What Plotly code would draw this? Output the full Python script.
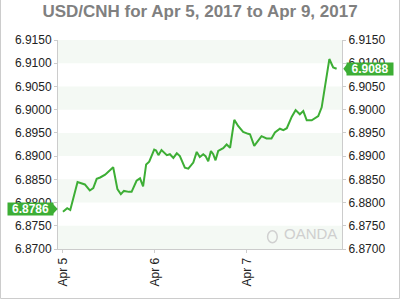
import pandas as pd
import plotly.graph_objects as go

title_text = "USD/CNH for Apr 5, 2017 to Apr 9, 2017"
start_time = "2017-04-05 00:00"
hours = [0, 1.1, 1.9, 3.8, 5.7, 7.0, 7.9, 8.8, 9.7, 11.0, 13.1, 14.2, 15.1, 15.9, 17.2,
         17.9, 19.2, 20.1, 20.9, 21.7, 22.5, 23.8, 24.3, 24.9, 25.7, 27.1, 27.9, 28.8, 29.7, 30.5,
         31.8, 32.7, 34.0, 34.9, 35.7, 36.6, 37.2, 37.9, 38.6, 39.2, 39.8, 40.5, 41.8, 42.7, 43.6,
         44.7, 45.7, 47.0, 48.3, 48.8, 49.9, 50.9, 51.8, 53.1, 54.4, 55.3, 56.6, 57.5, 58.4, 59.7,
         60.7, 61.8, 62.7, 63.6, 64.9, 66.6, 67.5, 69.5, 70.5, 71.4]
values = [6.8780, 6.8788, 6.8784, 6.8844, 6.8839, 6.8826, 6.8831, 6.8851, 6.8854, 6.8860,
          6.8876, 6.8829, 6.8818, 6.8825, 6.8823, 6.8823, 6.8847, 6.8852, 6.8835, 6.8882,
          6.8888, 6.8914, 6.8912, 6.8902, 6.8913, 6.8902, 6.8904, 6.8896, 6.8906, 6.8900,
          6.8875, 6.8873, 6.8886, 6.8909, 6.8898, 6.8904, 6.8900, 6.8889, 6.8911, 6.8904,
          6.8891, 6.8911, 6.8917, 6.8925, 6.8918, 6.8978, 6.8965, 6.8952, 6.8948, 6.8947,
          6.8922, 6.8932, 6.8943, 6.8938, 6.8938, 6.8951, 6.8959, 6.8956, 6.8960, 6.8985,
          6.8999, 6.8990, 6.8997, 6.8977, 6.8977, 6.8986, 6.9005, 6.9109, 6.9091, 6.9088]
tick_dates = ["2017-04-05", "2017-04-06", "2017-04-07"]
tick_labels = ["Apr 5", "Apr 6", "Apr 7"]
y_ticks = [6.870, 6.875, 6.880, 6.885, 6.890, 6.895, 6.900, 6.905, 6.910, 6.915]
bands = [(6.870, 6.875), (6.880, 6.885), (6.890, 6.895), (6.900, 6.905), (6.910, 6.915)]
x_range_hours = (-1.3, 72.8)
open_label = "6.8786"
close_label = "6.9088"

base = pd.Timestamp(start_time)
times = [base + pd.Timedelta(hours=h) for h in hours]
xr = [base + pd.Timedelta(hours=h) for h in x_range_hours]

GREEN = "#3dae35"
LINEC = "#cccccc"
FONT = "Liberation Sans, Arial, sans-serif"

fig = go.Figure()
fig.add_trace(go.Scatter(x=times, y=values, mode="lines",
                         line=dict(color=GREEN, width=2), hoverinfo="skip", showlegend=False))
fig.add_trace(go.Scatter(x=[times[0]], y=[values[0]], yaxis="y2", mode="markers",
                         marker=dict(opacity=0), hoverinfo="skip", showlegend=False))

shapes = []
for lo, hi in bands:
    shapes.append(dict(type="rect", xref="paper", yref="y", x0=0, x1=1, y0=lo, y1=hi,
                       fillcolor="#f4f9f4", line=dict(width=0), layer="below"))

# outer frame (left, bottom, right)
shapes.append(dict(type="path", xref="paper", yref="paper",
                   path="M -0.2025,1.2 L -0.2025,-0.2368 L 1.2025,-0.2368 L 1.2025,1.2",
                   line=dict(color=LINEC, width=1)))

v_open = float(open_label)
v_close = float(close_label)
half = 0.0013

def arrow(xb, xt, v):
    return dict(type="path", xref="paper", yref="y",
                path=f"M {xb},{v+half} L {xt},{v} L {xb},{v-half} Z",
                fillcolor=GREEN, line=dict(width=0))

shapes.append(arrow(-0.0211, -0.001, v_open))
shapes.append(arrow(1.0211, 1.0046, v_close))

# OANDA logo circle
shapes.append(dict(type="circle", xref="paper", yref="paper",
                   x0=0.738, x1=0.772, y0=0.03, y1=0.087, line=dict(color="#d0d0d0", width=1.5)))

tagfont = dict(color="white", size=12, family=FONT, weight="bold")
annotations = [
    dict(text=open_label, xref="paper", yref="y", x=-0.0968, y=v_open, showarrow=False,
         xanchor="center", yanchor="middle",
         bgcolor=GREEN, width=45, height=12, borderpad=0, font=tagfont),
    dict(text=close_label, xref="paper", yref="y", x=1.0986, y=v_close, showarrow=False,
         xanchor="center", yanchor="middle",
         bgcolor=GREEN, width=46, height=12, borderpad=0, font=tagfont),
    dict(text="OANDA", xref="paper", yref="paper", x=0.99, y=0.025, xanchor="right", yanchor="bottom",
         showarrow=False, font=dict(color="#cfcfcf", size=15, family=FONT)),
]

yaxis_common = dict(range=[6.870, 6.915], tickvals=y_ticks, tickformat=".4f",
                    showgrid=False, zeroline=False, showline=True, linecolor=LINEC,
                    ticks="outside", ticklen=3, tickcolor=LINEC,
                    tickfont=dict(size=12, color="#222222", family=FONT))

fig.update_layout(
    width=400, height=300,
    margin=dict(l=58, r=58, t=40, b=51),
    paper_bgcolor="white", plot_bgcolor="white",
    title=dict(text=title_text, x=0.5, xanchor="center", y=0.962, yanchor="middle",
               yref="container",
               font=dict(size=17, color="#808080", family=FONT, weight="bold")),
    xaxis=dict(range=xr, tickvals=tick_dates, ticktext=tick_labels, tickangle=-90,
               showgrid=False, zeroline=False, showline=True, linecolor=LINEC,
               ticks="outside", ticklen=3, tickcolor=LINEC,
               tickfont=dict(size=12, color="#222222", family=FONT)),
    yaxis=dict(side="left", **yaxis_common),
    yaxis2=dict(side="right", overlaying="y", **yaxis_common),
    shapes=shapes,
    annotations=annotations,
    showlegend=False,
)

fig.write_html("out.html")
